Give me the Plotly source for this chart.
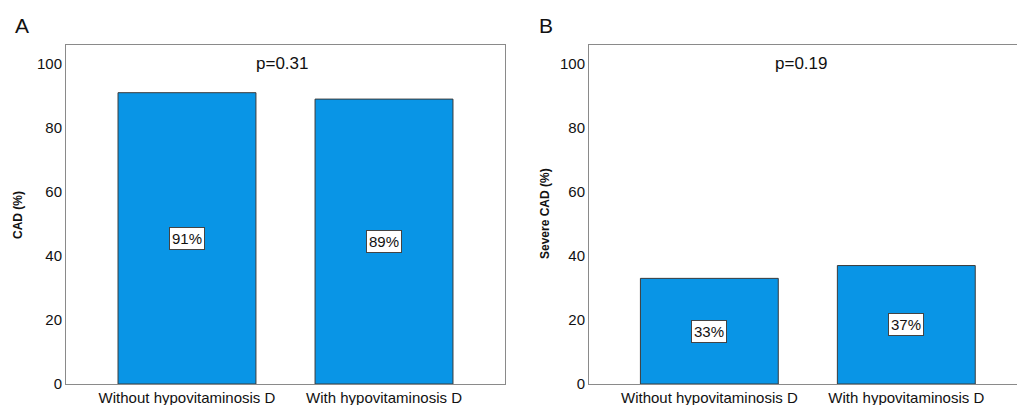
import plotly.graph_objects as go

categories = ["Without hypovitaminosis D", "With hypovitaminosis D"]
cad_values = [91, 89]
severe_values = [33, 37]
p_values = ["p=0.31", "p=0.19"]
panel_labels = ["A", "B"]
y_titles = ["CAD (%)", "Severe CAD (%)"]
y_ticks = [0, 20, 40, 60, 80, 100]

FONT = "Arial, Liberation Sans, sans-serif"
BAR_COLOR = "#0995E6"
AXIS_COLOR = "#8a8a8a"

fig = go.Figure()
idx = [0, 1]
fig.add_trace(go.Bar(x=idx, y=cad_values, width=0.70, marker=dict(color=BAR_COLOR, line=dict(color="#3a3a3a", width=1)),
                     xaxis="x", yaxis="y", showlegend=False, hoverinfo="skip"))
fig.add_trace(go.Bar(x=idx, y=severe_values, width=0.70, marker=dict(color=BAR_COLOR, line=dict(color="#3a3a3a", width=1)),
                     xaxis="x2", yaxis="y2", showlegend=False, hoverinfo="skip"))

W, H = 1017, 405
ml, mr, mt, mb = 66, 0, 45, 21
pw = W - ml - mr

ax_common = dict(showline=True, linecolor=AXIS_COLOR, linewidth=1, showgrid=False, zeroline=False, ticks="",
                 tickfont=dict(family=FONT, size=15, color="#111"))

fig.update_layout(
    width=W, height=H, margin=dict(l=ml, r=mr, t=mt, b=mb),
    paper_bgcolor="white", plot_bgcolor="white",
    xaxis=dict(domain=[0, (505 - ml) / pw], range=[-0.614, 1.614], tickvals=idx, ticktext=categories,
               mirror=True, anchor="y", **ax_common),
    yaxis=dict(domain=[0, 1], range=[0, 105.9], tickvals=y_ticks, mirror=True, anchor="x", **ax_common),
    xaxis2=dict(domain=[(589 - ml) / pw, 1], range=[-0.611, 1.562], tickvals=idx, ticktext=categories,
                mirror=True, anchor="y2", **ax_common),
    yaxis2=dict(domain=[0, 1], range=[0, 105.9], tickvals=y_ticks, mirror=False, anchor="x2", **ax_common),
    bargap=0.3,
)

annotations = []
for xr, yr, vals, pv, px in [("x", "y", cad_values, p_values[0], 0.482), ("x2", "y2", severe_values, p_values[1], 0.465)]:
    for i, v in zip(idx, vals):
        annotations.append(dict(x=i, y=v / 2, xref=xr, yref=yr, text=f"{v}%", showarrow=False,
                                xanchor="center", yanchor="middle",
                                font=dict(family=FONT, size=15, color="#111"), bgcolor="white",
                                bordercolor="#444", borderwidth=1, borderpad=2))
    annotations.append(dict(x=px, y=100, xref=xr, yref=yr, text=pv, showarrow=False,
                            xanchor="center", yanchor="middle",
                            font=dict(family=FONT, size=17, color="#111")))

def px_x(x):
    return (x - ml) / pw

def px_y(y):
    return (H - mb - y) / (H - mt - mb)

common = dict(xref="paper", yref="paper", showarrow=False, xanchor="center", yanchor="middle")
annotations.append(dict(x=px_x(22), y=px_y(25), text=panel_labels[0],
                        font=dict(family=FONT, size=21, color="#111"), **common))
annotations.append(dict(x=px_x(546), y=px_y(25), text=panel_labels[1],
                        font=dict(family=FONT, size=21, color="#111"), **common))
annotations.append(dict(x=px_x(18), y=px_y(215), text=f"<b>{y_titles[0]}</b>", textangle=-90,
                        font=dict(family=FONT, size=12, color="#111"), **common))
annotations.append(dict(x=px_x(545), y=px_y(214), text=f"<b>{y_titles[1]}</b>", textangle=-90,
                        font=dict(family=FONT, size=12, color="#111"), **common))

fig.update_layout(annotations=annotations)
fig.write_html("out.html")
